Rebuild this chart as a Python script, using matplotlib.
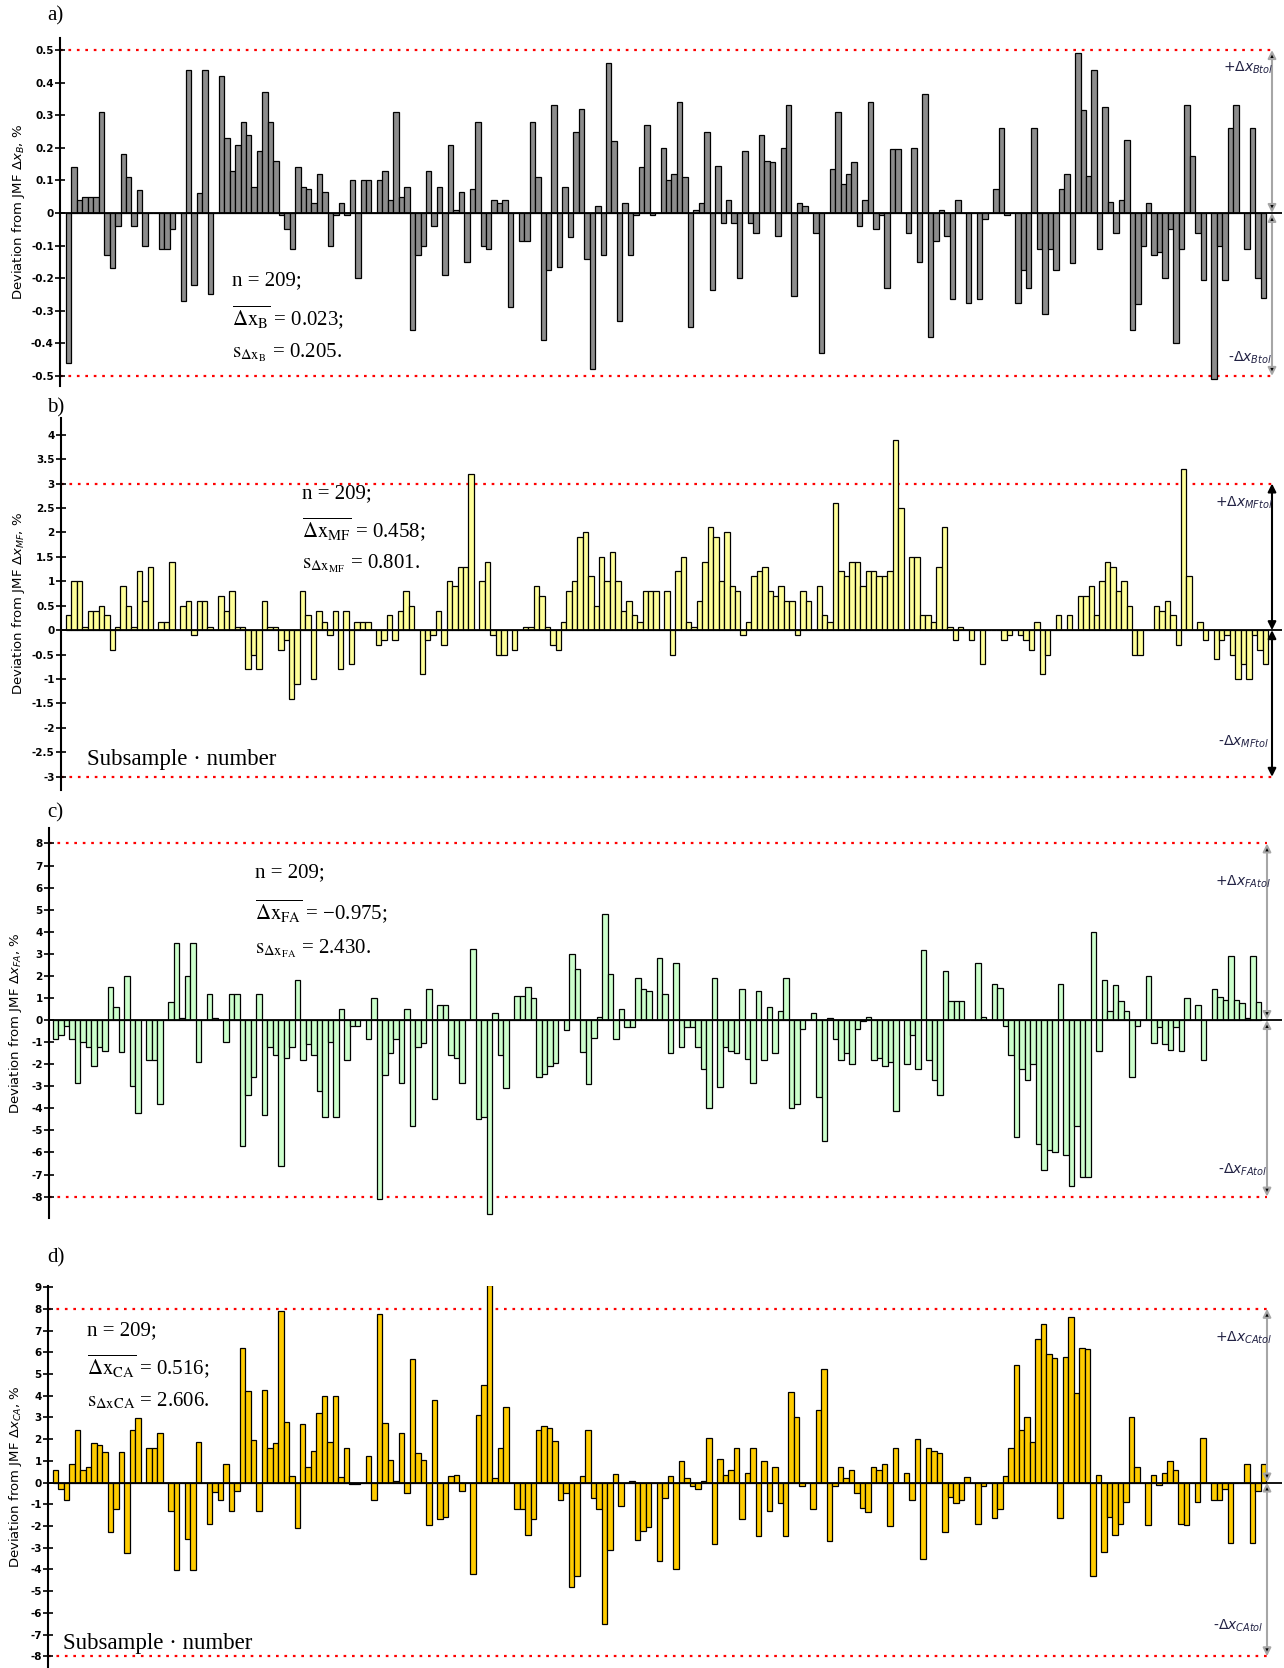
import numpy as np
import matplotlib.pyplot as plt

plt.rcParams['mathtext.fontset'] = 'stix'

W, H = 1284, 1668

# -------------------------------
# DATA
# -------------------------------

dev_b = [-0.46, 0.14, 0.04, 0.05, 0.05, 0.05, 0.31, -0.13, -0.17, -0.04, 0.18, 0.11, -0.04, 0.07, -0.10, 0, 0,
         -0.11, -0.11, -0.05, 0, -0.27, 0.44, -0.22, 0.06, 0.44, -0.25, 0, 0.42, 0.23, 0.13, 0.21, 0.28, 0.24,
         0.08, 0.19, 0.37, 0.28, 0.16, -0.005, -0.05, -0.11, 0.14, 0.08, 0.075, 0.03, 0.12, 0.065, -0.10, -0.005,
         0.03, -0.005, 0.10, -0.20, 0.10, 0.10, 0, 0.10, 0.13, 0.04, 0.31, 0.05, 0.08, -0.36, -0.13, -0.10, 0.13,
         -0.04, 0.08, -0.19, 0.21, 0.01, 0.065, -0.15, 0.075, 0.28,
         -0.10, -0.11, 0.04, 0.03, 0.04, -0.29, 0, -0.085, -0.085, 0.28, 0.11, -0.39, -0.175, 0.33, -0.165, 0.08,
         -0.075, 0.25, 0.32, -0.14, -0.48, 0.02, -0.13, 0.46, 0.22, -0.33, 0.03, -0.13, -0.005, 0.14, 0.27, -0.005,
         0, 0.20, 0.10, 0.12, 0.34, 0.11, -0.35, 0.01, 0.03, 0.25, -0.235, 0.145, -0.03, 0.04, -0.03, -0.20, 0.19,
         -0.03, -0.06, 0.24, 0.16, 0.155, -0.07, 0.20, 0.33, -0.255, 0.03, 0.02, 0, -0.06, -0.43, 0, 0.135, 0.31,
         0.09, 0.12, 0.155, -0.04, 0.04,
         0.34, -0.05, -0.005, -0.23, 0.195, 0.195, 0, -0.06, 0.20, -0.15, 0.365, -0.38, -0.085, 0.01, -0.07, -0.265,
         0.04, 0, -0.275, 0, -0.265, -0.02, 0, 0.075, 0.26, -0.005, 0, -0.275, -0.175, -0.23, 0.26, -0.11, -0.31,
         -0.11, -0.175, 0.075, 0.12, -0.155, 0.49, 0.315, 0.115, 0.44, -0.11, 0.325, 0.035, -0.06, 0.04, 0.225,
         -0.36, -0.28, -0.10, 0.03, -0.13, -0.12, -0.20, -0.05, -0.40, -0.11, 0.33, 0.175, -0.06, -0.205, 0, -0.51,
         -0.10, -0.205, 0.26, 0.33, 0, -0.11, 0.26, -0.20, -0.26]

dev_mf = [0.3, 1.0, 1.0, 0.07, 0.4, 0.4, 0.5, 0.3, -0.4, 0.07, 0.9, 0.5, 0.07, 1.2, 0.6, 1.3, 0, 0.17, 0.17, 1.4,
          0, 0.5, 0.6, -0.1, 0.6, 0.6, 0.07, 0, 0.7, 0.4, 0.8, 0.07, 0.07, -0.8, -0.5, -0.8, 0.6, 0.07, 0.07, -0.4,
          -0.2, -1.4, -1.1, 0.8, 0.3, -1.0, 0.4, 0.17, -0.1, 0.4, -0.8, 0.4, -0.7, 0.17, 0.17, 0.17, 0, -0.3, -0.2,
          0.3, -0.2, 0.4, 0.8, 0.5, 0, -0.9, -0.2, -0.1, 0.4, -0.3, 1.0, 0.9, 1.3, 1.3, 3.2,
          0, 1.0, 1.4, -0.1, -0.5, -0.5, 0, -0.4, 0, 0.07, 0.07, 0.9, 0.7, 0.07, -0.3, -0.4, 0.17, 0.8, 1.0, 1.9,
          2.0, 1.1, 0.5, 1.5, 1.0, 1.6, 1.0, 0.4, 0.6, 0.3, 0.17, 0.8, 0.8, 0.8, 0, 0.8, -0.5, 1.2, 1.5, 0.17,
          0.07, 0.6, 1.4, 2.1, 1.9, 1.0, 2.0, 0.9, 0.8, -0.1, 0.17, 1.1, 1.2, 1.3, 0.8, 0.7, 0.9, 0.6, 0.6, -0.1,
          0.8, 0.6, 0, 0.9, 0.3, 0.17, 2.6, 1.2, 1.1, 1.4, 1.4, 0.9, 1.2,
          1.2, 1.1, 1.1, 1.2, 3.9, 2.5, 0, 1.5, 1.5, 0.3, 0.3, 0.17, 1.3, 2.1, 0.07, -0.2, 0.07, 0, -0.2, 0, -0.7,
          0, 0, 0, -0.2, -0.1, 0, -0.1, -0.2, -0.4, 0.17, -0.9, -0.5, 0, 0.3, 0, 0.3, 0, 0.7, 0.7, 0.9, 0.3, 1.0,
          1.4, 1.3, 0.8, 1.0, 0.5, -0.5, -0.5, 0, 0, 0.5, 0.4, 0.6, 0.3, -0.3, 3.3, 1.1, 0, 0.17, -0.2, 0, -0.6,
          -0.2, -0.1, -0.5, -1.0, -0.7, -1.0, -0.1, -0.4, -0.7]

dev_fa = [-0.85, -0.7, -0.25, -0.85, -2.85, -1.0, -1.2, -2.1, -1.2, -1.4, 1.5, 0.6, -1.45, 2.0, -3.0, -4.2, 0,
          -1.8, -1.8, -3.8, 0, 0.8, 3.5, 0.1, 2.0, 3.5, -1.9, 0, 1.2, 0.07, 0, -1.0, 1.2, 1.2, -5.7, -3.4, -2.6,
          1.2, -4.3, -1.2, -1.6, -6.6, -1.7, -1.2, 1.8, -1.8, -1.1, -1.6, -3.2, -4.4, -1.0, -4.4, 0.5, -1.8, -0.25,
          -0.25, 0, -0.85, 1.0, -8.1, -2.5, -1.5, -0.85, -2.85, 0.5, -4.8, -1.2, -1.05, 1.4, -3.6, 0.7, 0.7, -1.6,
          -1.7,
          -2.85, 0, 3.2, -4.5, -4.4, -8.8, 0.3, -1.6, -3.1, 0, 1.1, 1.1, 1.5, 1.0, -2.6, -2.45, -2.1, -1.95, 0,
          -0.45, 3.0, 2.3, -1.45, -2.9, -0.8, 0.15, 4.8, 2.1, -0.85, 0.5, -0.3, -0.3, 1.9, 1.4, 1.3, 0, 2.8, 1.2,
          -1.5, 2.6, -1.2, -0.3, -0.3, -1.2, -2.2, -4.0, 1.9, -3.05, -1.2, -1.4, -1.5, 1.4, -1.75, -2.85, 1.3, -1.8,
          0.6, -1.5, 0.4, 1.9, -4.0, -3.8, -0.4, 0, 0.3, -3.5, -5.5, 0.07, -0.85, -1.8, -1.5, -2.0, -0.4, -0.05,
          0.15,
          -1.8, -1.7, -2.1, -1.9, -4.1, 0, -2.0, -0.7, -2.2, 3.15, -1.8, -2.7, -3.4, 2.2, 0.85, 0.85, 0.85, 0, 0,
          2.6, 0.15, 0, 1.65, 1.45, -0.25, -1.6, -5.3, -2.2, -2.7, -2.0, -5.6, -6.8, -5.9, -6.0, 1.65, -6.1, -7.5,
          -4.8, -7.1, -7.1, 4.0, -1.4, 1.8, 0.4, 1.6, 0.85, 0.4, -2.6, -0.25, 0, 2.0, -1.05, -0.3, -1.1, -1.35,
          -0.3, -1.4, 1.0, 0, 0.7, -1.8, 0, 1.4, 1.05, 0.9, 2.9, 0.9, 0.75, 0.07, 2.9, 0.8]

dev_ca = [0.6, -0.3, -0.8, 0.85, 2.4, 0.6, 0.7, 1.8, 1.75, 1.4, -2.3, -1.2, 1.4, -3.25, 2.4, 2.95, 0, 1.6, 1.6,
          2.3, 0, -1.3, -4.05, 0, -2.6, -4.05, 1.85, 0, -1.9, -0.45, -0.8, 0.85, -1.3, -0.4, 6.2, 4.2, 1.95, -1.3,
          4.25, 1.6, 1.8, 7.9, 2.8, 0.3, -2.1, 2.7, 0.7, 1.45, 3.2, 4.0, 1.85, 4.0, 0.25, 1.6, -0.05, -0.05, 0,
          1.2, -0.8, 7.75, 2.75, 1.05, 0.07, 2.3, -0.5, 5.7, 1.35, 1.05, -1.95, 3.8, -1.7, -1.6, 0.3, 0.35,
          -0.4, 0, -4.2, 3.1, 4.5, 9.1, 0.2, 1.6, 3.5, 0, -1.2, -1.2, -2.4, -1.7, 2.4, 2.6, 2.5, 1.9, -0.8, -0.5,
          -4.8, -4.3, 0.3, 2.4, -0.7, -1.2, -6.5, -3.1, 0.4, -1.1, 0, 0.05, -2.65, -2.25, -2.05, 0, -3.6, -0.7,
          0.3, -4.0, 1.0, 0.2, -0.15, -0.3, 0.07, 2.05, -2.85, 1.1, 0.35, 0.6, 1.6, -1.7, 0.45, 1.6, -2.45, 1.0,
          -1.3, 0.7, -0.95, -2.45, 4.15, 3.0, -0.15, 0, -1.2, 3.35, 5.25, -2.7, -0.15, 0.7, 0.2, 0.6, -0.5, -1.15,
          -1.35,
          0.7, 0.6, 0.85, -2.0, 1.6, 0, 0.45, -0.8, 2.0, -3.5, 1.6, 1.45, 1.35, -2.3, -0.65, -0.95, -0.8, 0.25, 0,
          -1.9, -0.15, 0, -1.65, -1.2, 0.3, 1.6, 5.4, 2.4, 3.0, 1.85, 6.6, 7.3, 5.9, 5.75, -1.65, 5.8, 7.6, 4.1,
          6.2, 6.15, -4.3, 0.35, -3.2, -1.6, -2.4, -1.9, -0.9, 3.0, 0.7, 0, -1.95, 0.35, -0.1, 0.45, 1.0, 0.6,
          -1.9, -1.95, 0, -0.9, 2.05, 0, -0.8, -0.8, -0.3, -2.8, 0, 0, 0.85, -2.8, -0.4, 0.85]

letters = ["a)", "b)", "c)", "d)"]
subs = ["B", "MF", "FA", "CA"]
tols = [0.5, 3, 8, 8]
means = ["0.023", "0.458", "\u22120.975", "0.516"]
sds = ["0.205", "0.801", "2.430", "2.606"]
colors = ["#8c8c8c", "#ffff99", "#ccffcc", "#ffcc00"]

# -------------------------------
# LAYOUT (pixels of the 1284x1668 picture)
# -------------------------------

panels = [
    dict(box=(60, 38, 1282, 386), bars=(66, 1266), ylim=(-0.531, 0.537),
         ticks=np.round(np.arange(-0.5, 0.51, 0.1), 1), arrow=1272, acol="#a6a6a6",
         stats=(232, 281, 36), tl=((1223, 0.445), (1228, -0.445)), sub_lab=None),
    dict(box=(61, 418, 1282, 790), bars=(66, 1268), ylim=(-3.27, 4.34),
         ticks=np.arange(-3, 4.01, 0.5), arrow=1272, acol="black",
         stats=(302, 494, 35), tl=((1215, 2.6), (1218, -2.28)), sub_lab=(87, 759)),
    dict(box=(49, 828, 1282, 1218), bars=(53, 1261), ylim=(-8.97, 8.70),
         ticks=np.arange(-8, 9), arrow=1267, acol="#a6a6a6",
         stats=(255, 873, 38), tl=((1215, 6.26), (1218, -6.8)), sub_lab=None),
    dict(box=(48, 1286, 1282, 1668), bars=(53, 1266), ylim=(-8.54, 9.05),
         ticks=np.arange(-8, 10), arrow=1267, acol="#a6a6a6",
         stats=(87, 1331, 35), tl=((1215, 6.66), (1213, -6.6)), sub_lab=(63, 1643)),
]

fig = plt.figure(figsize=(W / 100, H / 100), dpi=100)

for k, (vals, p) in enumerate(zip([dev_b, dev_mf, dev_fa, dev_ca], panels)):
    l, t, r, b = p["box"]
    ax = fig.add_axes([l / W, 1 - b / H, (r - l) / W, (b - t) / H])
    n = len(vals)
    x0, x1 = p["bars"]
    sc = n / (x1 - x0)
    ax.set_xlim(-0.5 - (x0 - l) * sc, n - 0.5 + (r - x1) * sc)
    ax.set_ylim(*p["ylim"])

    ax.bar(np.arange(n), vals, width=1.0, color=colors[k], edgecolor="black", linewidth=0.9, zorder=2)
    ax.axhline(0, color="black", lw=1.3, zorder=3)

    tol = tols[k]
    xa = (p["arrow"] - l) / (r - l)
    for s in (1, -1):
        ax.axhline(s * tol, xmax=xa, color="red", lw=1.6, ls=(0, (1.2, 2.6)), zorder=1)
        ax.annotate("", xy=(xa, s * tol), xytext=(xa, 0), xycoords=ax.get_yaxis_transform(),
                    arrowprops=dict(arrowstyle="<|-|>", edgecolor=p["acol"], facecolor="black",
                                    lw=1.5, mutation_scale=12, shrinkA=0, shrinkB=0))

    # tolerance labels
    (xp, yp), (xm, ym) = p["tl"]
    tr = ax.get_yaxis_transform()
    ax.text((xp - l) / (r - l), yp, r"+$\Delta x_{%stol}$" % subs[k], transform=tr, fontsize=10,
            color="#222244", math_fontfamily="dejavusans", va="center")
    ax.text((xm - l) / (r - l), ym, r"-$\Delta x_{%stol}$" % subs[k], transform=tr, fontsize=10,
            color="#222244", math_fontfamily="dejavusans", va="center")

    # axes styling
    for side in ("top", "right", "bottom"):
        ax.spines[side].set_visible(False)
    ax.spines["left"].set_linewidth(1.5)
    ax.set_xticks([])
    ticks = p["ticks"]
    ax.set_yticks(ticks)
    ax.set_yticklabels(["%g" % (v + 0.0) if abs(v) > 1e-9 else "0" for v in ticks])
    ax.tick_params(axis="y", direction="inout", length=7, width=1.2, labelsize=7.5, pad=1)
    for lab in ax.get_yticklabels():
        lab.set_fontweight("bold")
    ax.patch.set_alpha(0)

    # stats box
    sx, sy, dy = p["stats"]
    sub = subs[k]
    fs = 15
    fig.text(sx / W, 1 - sy / H, "n = 209;", family="Liberation Serif", fontsize=fs, va="center")
    fig.text(sx / W, 1 - (sy + dy) / H,
             r"$\overline{\mathrm{\Delta x}_{\mathrm{%s}}}$ = %s;" % (sub, means[k]),
             family="Liberation Serif", fontsize=fs, va="center")
    if k == 3:
        s_lab = r"$\mathrm{s}_{\mathrm{\Delta xCA}}$ = %s." % sds[k]
    else:
        s_lab = r"$\mathrm{s}_{\mathrm{\Delta x}_{\mathrm{%s}}}$ = %s." % (sub, sds[k])
    fig.text(sx / W, 1 - (sy + 2 * dy) / H, s_lab, family="Liberation Serif", fontsize=fs, va="center")

    if p["sub_lab"] is not None:
        ux, uy = p["sub_lab"]
        fig.text(ux / W, 1 - uy / H, "Subsample \u00b7 number", family="Liberation Serif",
                 fontsize=16.5, va="center")

    # panel letter and y label
    ly = {0: 16, 1: 408, 2: 813, 3: 1258}[k]
    fig.text(47 / W, 1 - ly / H, letters[k], family="Liberation Serif", fontsize=15, va="center")
    lx = 19 if k < 2 else 16
    fig.text(lx / W, 1 - ((t + b) / 2) / H,
             r"Deviation from JMF $\mathit{\Delta x}_{%s}$, %%" % sub,
             rotation=90, fontsize=9.5, va="center", ha="center", math_fontfamily="dejavusans")

fig.savefig("out.png", dpi=100)
